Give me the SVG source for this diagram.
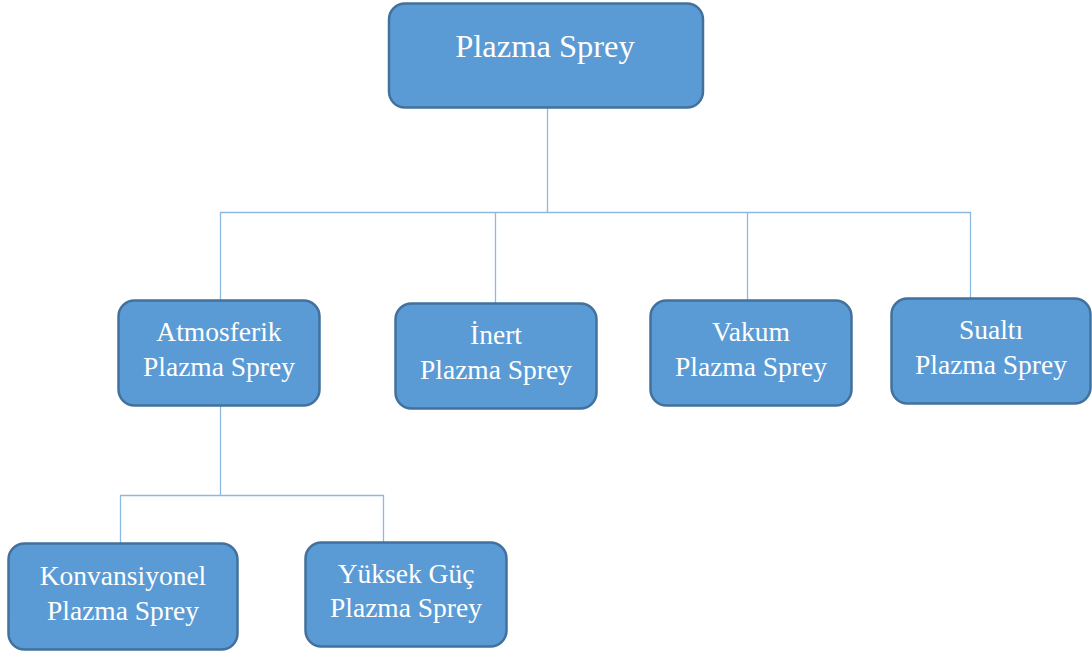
<svg xmlns="http://www.w3.org/2000/svg" width="1092" height="655" viewBox="0 0 1092 655">
<style>
.box{fill:#5B9BD5;stroke:#41719C;stroke-width:2.5}
.t{font-family:"Liberation Serif","Times New Roman",serif;fill:#ffffff;text-anchor:middle;font-size:27.5px}
.big{font-size:32.5px}
.c{fill:none;stroke:#8DB8E2;stroke-width:1.3}
</style>
<rect width="1092" height="655" fill="#ffffff"/>
<g id="connectors">
<path class="c" d="M547.5 108 V212.5 M220.5 300 V212.5 H970.5 V298 M495.5 212.5 V303 M747.5 212.5 V300"/>
<path class="c" d="M220.5 406 V495.5 M120.5 543 V495.5 H383.5 V542"/>
</g>
<g id="n-root">
<rect class="box" x="389" y="3.5" width="314" height="104" rx="16"/>
<text class="t big" x="545" y="57">Plazma Sprey</text>
</g>
<g id="n-atmosferik">
<rect class="box" x="118.5" y="300.5" width="201" height="105" rx="16"/>
<text class="t" x="219" y="341">Atmosferik</text>
<text class="t" x="219" y="376">Plazma Sprey</text>
</g>
<g id="n-inert">
<rect class="box" x="395.5" y="303.5" width="201" height="105" rx="16"/>
<text class="t" x="496" y="344">İnert</text>
<text class="t" x="496" y="379">Plazma Sprey</text>
</g>
<g id="n-vakum">
<rect class="box" x="650.5" y="300.5" width="201" height="105" rx="16"/>
<text class="t" x="751" y="341">Vakum</text>
<text class="t" x="751" y="376">Plazma Sprey</text>
</g>
<g id="n-sualti">
<rect class="box" x="891.5" y="298.5" width="199" height="105" rx="16"/>
<text class="t" x="991" y="339">Sualtı</text>
<text class="t" x="991" y="374">Plazma Sprey</text>
</g>
<g id="n-konvansiyonel">
<rect class="box" x="8.5" y="543.5" width="229" height="106" rx="16"/>
<text class="t" x="123" y="585">Konvansiyonel</text>
<text class="t" x="123" y="620">Plazma Sprey</text>
</g>
<g id="n-yuksek">
<rect class="box" x="305.5" y="542.5" width="201" height="104" rx="16"/>
<text class="t" x="406" y="583">Yüksek Güç</text>
<text class="t" x="406" y="617">Plazma Sprey</text>
</g>
</svg>
